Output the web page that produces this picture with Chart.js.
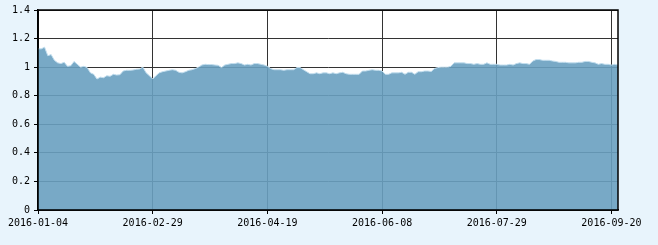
<!DOCTYPE html>
<html>
<head>
<meta charset="utf-8">
<script src="https://cdn.jsdelivr.net/npm/chart.js@4/dist/chart.umd.min.js"></script>
<style>
  html, body { margin: 0; padding: 0; background: #e8f4fc; }
  #wrap { position: relative; width: 658px; height: 245px; }
</style>
</head>
<body>
<div id="wrap"><canvas id="chart" width="658" height="245"></canvas></div>
<script>
(function () {
  'use strict';

  // trading calendar: weekdays from first to last date, minus exchange holidays
  var firstDate = '2016-01-04';
  var lastDate = '2016-09-22';
  var holidays = [
    '2016-02-08', '2016-02-09', '2016-02-10', '2016-02-11', '2016-02-12',
    '2016-04-04', '2016-05-02', '2016-06-09', '2016-06-10',
    '2016-09-15', '2016-09-16',
  ];
  var labelEvery = 35;
  var yTicks = [0, 0.2, 0.4, 0.6, 0.8, 1, 1.2, 1.4];

  // net value (one per trading day)
  var netValue = [
    1.128, 1.128, 1.14, 1.08, 1.088, 1.048, 1.03, 1.025, 1.034, 1.006,
    1.01, 1.04, 1.02, 1.0, 1.006, 0.997, 0.96, 0.95, 0.917, 0.93,
    0.926, 0.94, 0.936, 0.95, 0.945, 0.947, 0.973, 0.978, 0.978, 0.98,
    0.985, 0.987, 1.0, 0.96, 0.94, 0.917, 0.94, 0.96, 0.968, 0.973,
    0.978, 0.982, 0.978, 0.964, 0.96, 0.968, 0.978, 0.982, 0.99, 1.0,
    1.015, 1.02, 1.018, 1.018, 1.015, 1.013, 0.997, 1.015, 1.02, 1.025,
    1.025, 1.03, 1.025, 1.015, 1.02, 1.015, 1.025, 1.025, 1.02, 1.015,
    1.006, 0.99, 0.982, 0.982, 0.982, 0.978, 0.982, 0.982, 0.982, 0.997,
    0.997, 0.982, 0.968, 0.954, 0.954, 0.96, 0.954, 0.96, 0.96, 0.954,
    0.96, 0.954, 0.96, 0.964, 0.954, 0.95, 0.95, 0.95, 0.95, 0.973,
    0.973, 0.978, 0.982, 0.978, 0.978, 0.973, 0.95, 0.95, 0.96, 0.96,
    0.96, 0.964, 0.95, 0.964, 0.964, 0.95, 0.968, 0.968, 0.973, 0.973,
    0.97, 0.99, 0.997, 1.0, 1.0, 1.0, 1.006, 1.03, 1.03, 1.03,
    1.03, 1.025, 1.025, 1.02, 1.025, 1.02, 1.02, 1.03, 1.02, 1.02,
    1.02, 1.015, 1.015, 1.015, 1.02, 1.015, 1.025, 1.03, 1.025, 1.025,
    1.02, 1.043, 1.053, 1.053, 1.048, 1.048, 1.048, 1.043, 1.04, 1.034,
    1.034, 1.034, 1.03, 1.03, 1.03, 1.034, 1.034, 1.04, 1.04, 1.034,
    1.03, 1.02, 1.025, 1.02, 1.02, 1.015, 1.02, 1.015,
  ];

  function pad(n) {
    return n < 10 ? '0' + n : String(n);
  }

  function tradingDays(from, to, skip) {
    var out = [];
    var d = new Date(from + 'T00:00:00Z');
    var end = new Date(to + 'T00:00:00Z');
    while (d <= end) {
      var s = d.getUTCFullYear() + '-' + pad(d.getUTCMonth() + 1) + '-' + pad(d.getUTCDate());
      var wd = d.getUTCDay();
      if (wd !== 0 && wd !== 6 && skip.indexOf(s) < 0) {
        out.push(s);
      }
      d.setUTCDate(d.getUTCDate() + 1);
    }
    return out;
  }

  var dates = tradingDays(firstDate, lastDate, holidays);

  var plotFrame = {
    id: 'plotFrame',
    beforeDraw: function (chart) {
      var a = chart.chartArea;
      var ctx = chart.ctx;
      ctx.save();
      ctx.fillStyle = '#ffffff';
      ctx.fillRect(a.left, a.top, a.right - a.left, a.bottom - a.top);
      ctx.restore();
    },
    afterDraw: function (chart) {
      var a = chart.chartArea;
      var ctx = chart.ctx;
      ctx.save();
      ctx.strokeStyle = '#000000';
      ctx.lineWidth = 1.5;
      ctx.strokeRect(a.left, a.top, a.right - a.left, a.bottom - a.top);
      ctx.restore();
    },
  };

  Chart.defaults.font.family = '"DejaVu Sans Mono", monospace';
  Chart.defaults.font.size = 10;
  Chart.defaults.color = '#000000';

  new Chart(document.getElementById('chart'), {
    type: 'line',
    data: {
      labels: dates,
      datasets: [{
        data: netValue,
        fill: 'origin',
        backgroundColor: 'rgba(105,160,192,0.9)',
        borderColor: 'rgba(195,222,238,1)',
        borderWidth: 1,
        pointRadius: 0,
        tension: 0,
      }],
    },
    options: {
      responsive: false,
      animation: false,
      devicePixelRatio: 1,
      layout: { padding: { left: 0, right: 40, top: 10, bottom: 0 } },
      plugins: { legend: { display: false }, tooltip: { enabled: false } },
      scales: {
        x: {
          offset: false,
          grid: { color: '#333333', tickLength: 4, tickColor: '#000000' },
          border: { color: '#000000', width: 1.5 },
          ticks: {
            autoSkip: false,
            maxRotation: 0,
            padding: 3,
            callback: function (v, i) {
              return i % labelEvery === 0 ? dates[i] : null;
            },
          },
          afterFit: function (s) { s.height = 35; },
        },
        y: {
          min: yTicks[0],
          max: yTicks[yTicks.length - 1],
          grid: { color: '#333333', tickLength: 4, tickColor: '#000000' },
          border: { color: '#000000', width: 1.5 },
          afterBuildTicks: function (s) {
            s.ticks = yTicks.map(function (v) { return { value: v }; });
          },
          ticks: {
            padding: 4,
            callback: function (v) {
              return String(Math.round(v * 10) / 10);
            },
          },
          afterFit: function (s) { s.width = 38; },
        },
      },
    },
    plugins: [plotFrame],
  });
})();
</script>
</body>
</html>
